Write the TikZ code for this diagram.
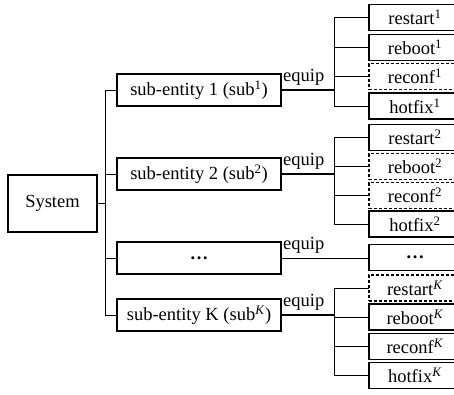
\documentclass[tikz,border=0pt]{standalone}
\usepackage{fontspec}
\setmainfont{Liberation Serif}
\begin{document}
\begin{tikzpicture}[x=1pt,y=-1pt,
  font=\fontsize{18.5}{20}\selectfont,
  box/.style={draw, line width=1.1pt, inner sep=0pt, outer sep=0pt},
  sysbox/.style={box, minimum width=89pt, minimum height=57pt},
  subbox/.style={box, minimum width=164pt, minimum height=32pt},
  leaf/.style={box, minimum width=92pt, minimum height=26pt},
  dleaf/.style={leaf, dash pattern=on 3pt off 2pt},
  conn/.style={line width=1pt},
  thick conn/.style={line width=1.6pt},
  lbl/.style={anchor=base west, inner sep=0pt}]
\clip (0,0) rectangle (454,394);
\useasboundingbox (0,0) rectangle (454,394);
% root
\node[sysbox] (sys) at (52.5,203.5) {System};
% sub-entities
\node[subbox] (s1) at (199,90) {sub-entity 1 (sub\textsuperscript{1})};
\node[subbox] (s2) at (199,174) {sub-entity 2 (sub\textsuperscript{2})};
\node[subbox] (sd) at (199,258) {\textbf{…}};
\node[subbox] (sK) at (199,315) {sub-entity K (sub\textsuperscript{\textit{K}})};
% leaves 1
\node[leaf] (r1) at (415,17.5) {restart\textsuperscript{1}};
\node[leaf] (b1) at (415,47.5) {reboot\textsuperscript{1}};
\node[dleaf] (c1) at (415,76.5) {reconf\textsuperscript{1}};
\node[leaf] (h1) at (415,106) {hotfix\textsuperscript{1}};
% leaves 2
\node[leaf] (r2) at (415,137.5) {restart\textsuperscript{2}};
\node[dleaf] (b2) at (415,166.5) {reboot\textsuperscript{2}};
\node[dleaf] (c2) at (415,195.5) {reconf\textsuperscript{2}};
\node[leaf] (h2) at (415,224) {hotfix\textsuperscript{2}};
% dots leaf
\node[leaf] (ld) at (415,257.5) {\textbf{…}};
% leaves K
\node[dleaf] (rK) at (415,288) {restart\textsuperscript{\textit{K}}};
\node[leaf] (bK) at (415,317) {reboot\textsuperscript{\textit{K}}};
\node[leaf] (cK) at (415,346.5) {reconf\textsuperscript{\textit{K}}};
\node[leaf] (hK) at (415,375.5) {hotfix\textsuperscript{\textit{K}}};
% system trunk
\coordinate (t) at (105,203.5);
\draw[conn] (sys.east) -- (t);
\draw[conn] (t |- s1.west) -- (t |- sK.west);
\foreach \s in {s1,s2,sd,sK} \draw[conn] (t |- \s.west) -- (\s.west);
% sub 1
\coordinate (j1) at (334,90);
\draw[thick conn] (s1.east) -- (j1);
\draw[conn] (j1 |- r1.west) -- (j1 |- h1.west);
\foreach \l in {r1,b1,c1,h1} \draw[conn] (j1 |- \l.west) -- (\l.west);
\node[lbl] (e1) at (283,81.5) {equip};
% sub 2
\coordinate (j2) at (334,174);
\draw[thick conn] (s2.east) -- (j2);
\draw[conn] (j2 |- r2.west) -- (j2 |- h2.west);
\foreach \l in {r2,b2,c2,h2} \draw[conn] (j2 |- \l.west) -- (\l.west);
\node[lbl] (e2) at (283,165) {equip};
% dots
\draw[conn] (sd.east) -- (ld.west |- sd.east);
\node[lbl] (ed) at (283,249) {equip};
% sub K
\coordinate (jK) at (334,315);
\draw[thick conn] (sK.east) -- (jK);
\draw[conn] (jK |- rK.west) -- (jK |- hK.west);
\foreach \l in {rK,bK,cK,hK} \draw[conn] (jK |- \l.west) -- (\l.west);
\node[lbl] (eK) at (283,306) {equip};
\end{tikzpicture}
\end{document}
